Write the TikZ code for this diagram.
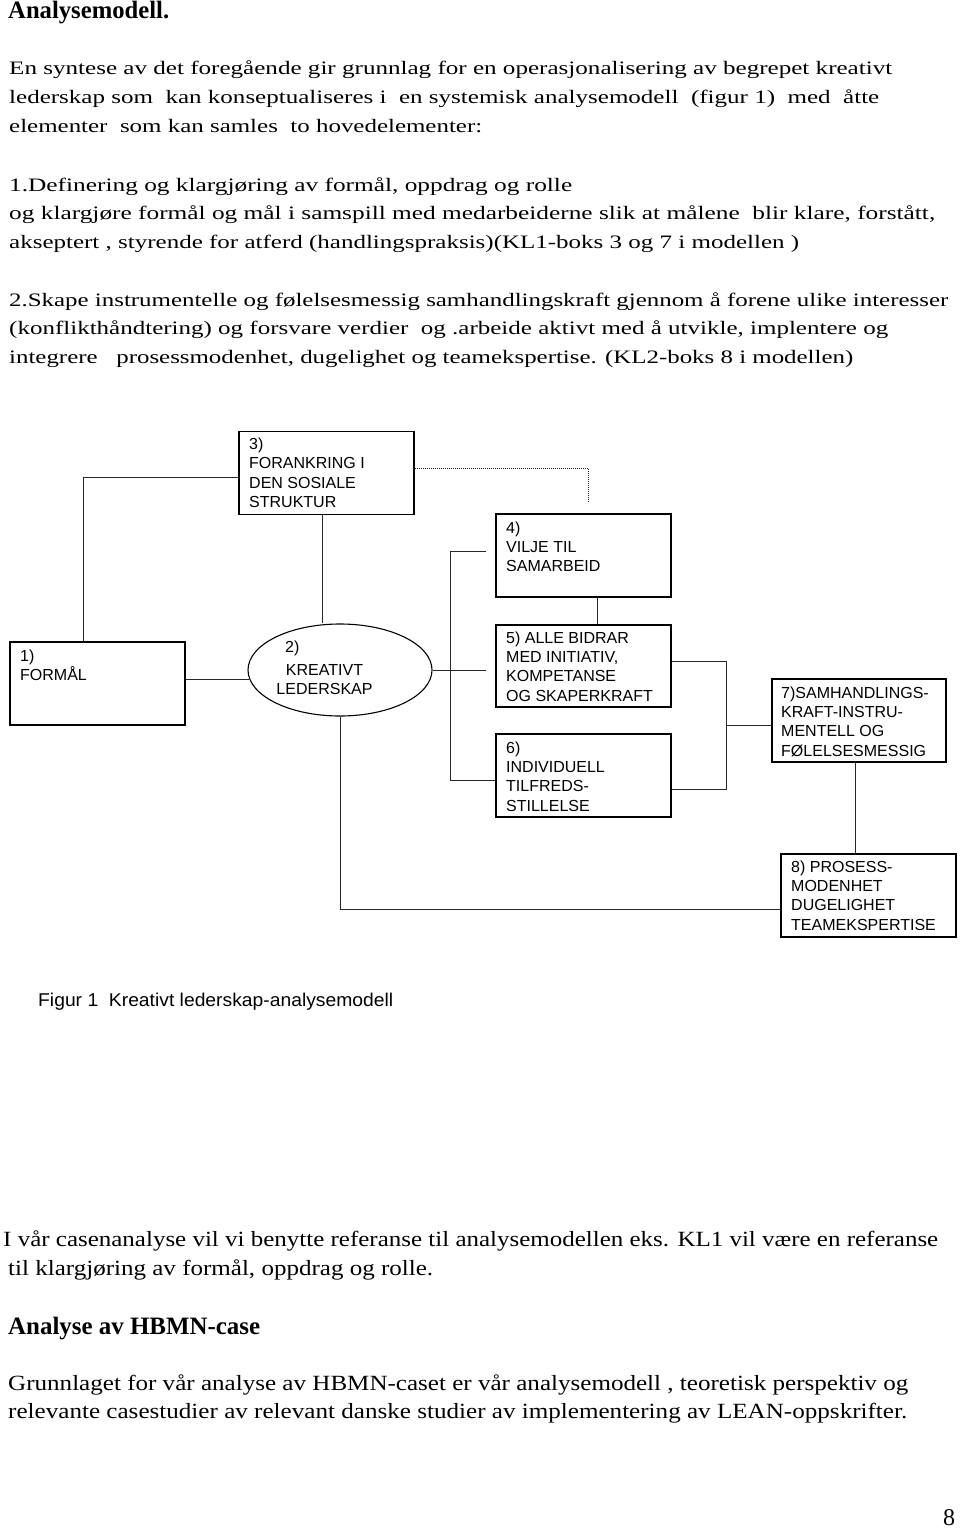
\documentclass[tikz,border=0pt]{standalone}
\usepackage{fontspec}
\setmainfont{Liberation Serif}
\newfontfamily\arialfont{Liberation Sans}
\usepackage{graphicx}
\usetikzlibrary{shapes.geometric}
\newcommand\fitw[2]{\resizebox{#1pt}{\height}{#2}}
\begin{document}
\begin{tikzpicture}[x=1pt,y=-1pt,
  boxnode/.style={draw, line width=1.1pt, inner sep=0pt, minimum width=175pt, minimum height=83pt},
  ellnode/.style={draw, ellipse, line width=1.1pt, inner sep=0pt, minimum width=184pt, minimum height=92pt},
  conn/.style={line width=1pt, draw=black!85},
  dotconn/.style={line width=0.9pt, draw=black!85, dash pattern=on 1pt off 1pt},
  btext/.style={font=\arialfont\fontsize{16}{19.3}\selectfont, align=left, anchor=north west, inner sep=0pt},
  bline/.style={font=\arialfont\fontsize{16}{19.3}\selectfont, inner sep=0pt},
  ptext/.style={font=\fontsize{19}{23}\selectfont, anchor=base west, inner sep=0pt},
  qtext/.style={font=\fontsize{21.7}{26}\selectfont, anchor=base west, inner sep=0pt},
  htext/.style={font=\bfseries\fontsize{25}{29}\selectfont, anchor=base west, inner sep=0pt}]
\fill[white] (0,0) rectangle (960,1530);
\useasboundingbox (0,0) rectangle (960,1530);

% ---- top text ----
\node[htext] (h1) at (8,19) {\fitw{161}{Analysemodell.}};
\node[ptext] (l1) at (9,75) {\fitw{883}{En syntese av det foregående gir grunnlag for en operasjonalisering av begrepet kreativt}};
\node[ptext] (l2) at (9,104) {\fitw{870}{lederskap som~ kan konseptualiseres i~ en systemisk analysemodell~ (figur 1)~ med~ åtte}};
\node[ptext] (l3) at (9,133) {\fitw{473}{elementer~ som kan samles~ to hovedelementer:}};
\node[ptext] (l4) at (9,192) {\fitw{563}{1.Definering og klargjøring av formål, oppdrag og rolle}};
\node[ptext] (l5) at (9,220) {\fitw{926}{og klargjøre formål og mål i samspill med medarbeiderne slik at målene~ blir klare, forstått,}};
\node[ptext] (l6) at (9,248) {\fitw{790}{akseptert , styrende for atferd (handlingspraksis)(KL1-boks 3 og 7 i modellen )}};
\node[ptext] (l7) at (9,306) {\fitw{939}{2.Skape instrumentelle og følelsesmessig samhandlingskraft gjennom å forene ulike interesser}};
\node[ptext] (l8) at (9,334) {\fitw{879}{(konflikthåndtering) og forsvare verdier~ og .arbeide aktivt med å utvikle, implentere og}};
\node[ptext] (l9) at (9,363) {\fitw{844}{integrere~~ prosessmodenhet, dugelighet og teamekspertise. (KL2-boks 8 i modellen)}};

% ---- diagram ----
\node[boxnode] (b3) at (326.5,473) {};
\node[boxnode] (b1) at (97.5,683.5) {};
\node[ellnode] (e2) at (340,670) {};
\node[boxnode] (b4) at (583.5,555.5) {};
\node[boxnode, minimum height=82pt] (b5) at (583.5,666) {};
\node[boxnode] (b6) at (583.5,775.5) {};
\node[boxnode, minimum width=174pt] (b7) at (859,720.5) {};
\node[boxnode] (b8) at (868.5,895.5) {};

\node[btext] (t3) at (249,437.9) {3)\\FORANKRING I\\DEN SOSIALE\\STRUKTUR};
\node[btext] (t1) at (20,649.9) {1)\\FORMÅL};
\node[bline, anchor=base west] (t2a) at (285,652) {2)};
\node[bline, anchor=base] (t2b) at (324.5,675) {KREATIVT};
\node[bline, anchor=base] (t2c) at (324.5,694) {LEDERSKAP};
\node[btext] (t4) at (506,521.4) {4)\\VILJE TIL\\SAMARBEID};
\node[btext] (t5) at (506,631.4) {5) ALLE BIDRAR\\MED INITIATIV,\\KOMPETANSE\\OG SKAPERKRAFT};
\node[btext] (t6) at (506,741.4) {6)\\INDIVIDUELL\\TILFREDS-\\STILLELSE};
\node[btext] (t7) at (781,686.4) {7)SAMHANDLINGS-\\KRAFT-INSTRU-\\MENTELL OG\\FØLELSESMESSIG};
\node[btext] (t8) at (791,860.4) {8) PROSESS-\\MODENHET\\DUGELIGHET\\TEAMEKSPERTISE};

% connectors
\draw[conn] ([yshift=-4pt]b3.west) -| ([xshift=-14.5pt]b1.north);
\draw[conn] ([xshift=-4.5pt]b3.south) -- ([xshift=-4.5pt]b3.south |- e2.north);
\draw[conn] ([yshift=4.5pt]b1.east) -- ([yshift=4.5pt]b1.east -| e2.186);
\coordinate (k4) at ([xshift=-9pt,yshift=4.5pt]b4.west);
\coordinate (k5) at ([xshift=-9pt]b5.west |- e2.east);
\coordinate (tr) at (450,551);
\draw[conn] (e2.east) -- (k5);
\draw[conn] (k4) -| ([yshift=-4.5pt]b6.west -| tr) -- ([yshift=-4.5pt]b6.west);
\draw[conn] ([xshift=14pt]b4.south) -- ([xshift=14pt]b5.north);
\coordinate (d4) at ([xshift=4.5pt,yshift=11pt]b4.north);
\draw[dotconn] ([yshift=5pt]b3.east) -| (d4);
\coordinate (j) at (726,725);
\draw[conn] ([yshift=5pt]b5.east) -| (j) |- ([yshift=-13.5pt]b6.east);
\draw[conn] (j) -- (j -| b7.west);
\draw[conn] ([xshift=-4pt]b7.south) -- ([xshift=-4pt]b7.south |- b8.north);
\draw[conn] (e2.south) |- ([yshift=-13.5pt]b8.west);

% caption
\node[font=\arialfont\fontsize{18.5}{22}\selectfont, anchor=base west, inner sep=0pt] (cap) at (38,1006) {\fitw{355}{Figur 1~ Kreativt lederskap-analysemodell}};

% ---- bottom text ----
\node[qtext] (m1) at (3,1246) {\fitw{935}{I vår casenanalyse vil vi benytte referanse til analysemodellen eks. KL1 vil være en referanse}};
\node[qtext] (m2) at (8,1275) {\fitw{425}{til klargjøring av formål, oppdrag og rolle.}};
\node[htext] (h2) at (8,1334) {\fitw{252}{Analyse av HBMN-case}};
\node[qtext] (m3) at (8,1390) {\fitw{900}{Grunnlaget for vår analyse av HBMN-caset er vår analysemodell , teoretisk perspektiv og}};
\node[qtext] (m4) at (8,1418) {\fitw{899}{relevante casestudier av relevant danske studier av implementering av LEAN-oppskrifter.}};
\node[font=\fontsize{24}{28}\selectfont, anchor=base west, inner sep=0pt] (pg) at (943,1525) {8};
\end{tikzpicture}
\end{document}
